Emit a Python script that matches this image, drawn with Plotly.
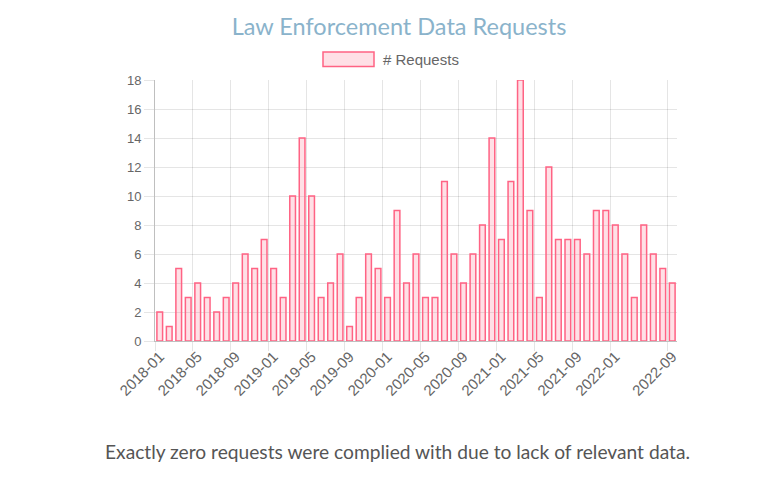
import plotly.graph_objects as go

months = [
    "2018-01", "2018-02", "2018-03", "2018-04", "2018-05", "2018-06", "2018-07", "2018-08",
    "2018-09", "2018-10", "2018-11", "2018-12",
    "2019-01", "2019-02", "2019-03", "2019-04", "2019-05", "2019-06", "2019-07", "2019-08",
    "2019-09", "2019-10", "2019-11", "2019-12",
    "2020-01", "2020-02", "2020-03", "2020-04", "2020-05", "2020-06", "2020-07", "2020-08",
    "2020-09", "2020-10", "2020-11", "2020-12",
    "2021-01", "2021-02", "2021-03", "2021-04", "2021-05", "2021-06", "2021-07", "2021-08",
    "2021-09", "2021-10", "2021-11", "2021-12",
    "2022-01", "2022-02", "2022-03", "2022-04", "2022-06", "2022-07", "2022-09",
]
requests = [
    2, 1, 5, 3, 4, 3, 2, 3, 4, 6, 5, 7,
    5, 3, 10, 14, 10, 3, 4, 6, 1, 3, 6, 5,
    3, 9, 4, 6, 3, 3, 11, 6, 4, 6, 8, 14,
    7, 11, 18, 9, 3, 12, 7, 7, 7, 6, 9, 9,
    8, 6, 3, 8, 6, 5, 4,
]
tick_labels = [
    "2018-01", "2018-05", "2018-09", "2019-01", "2019-05", "2019-09", "2020-01",
    "2020-05", "2020-09", "2021-01", "2021-05", "2021-09", "2022-01", "2022-09",
]

idx = list(range(len(months)))
tick_idx = [months.index(t) for t in tick_labels]

W, H = 782, 504
L, R, T, B = 155, 677, 80, 341.5

fig = go.Figure()
fig.add_trace(go.Bar(
    x=idx, y=requests, name="# Requests", width=0.6,
    marker=dict(color="rgba(255,99,132,0.2)",
                line=dict(color="rgb(255,99,132)", width=1.5)),
    hovertext=months, hoverinfo="text+y",
))

grid = "rgba(0,0,0,0.1)"
fig.update_layout(
    width=W, height=H, autosize=False,
    margin=dict(l=L, r=W - R, t=T, b=H - B, pad=0),
    paper_bgcolor="white", plot_bgcolor="white",
    showlegend=False,
    font=dict(family="Liberation Sans, Arial, sans-serif", color="#666", size=12),
    title=dict(text="Law Enforcement Data Requests", xref="container", yref="container",
               x=399 / W, xanchor="center", y=1 - 27 / H, yanchor="middle",
               font=dict(family="Lato", size=23.5, color="#8ab3cb")),
    xaxis=dict(
        range=[-0.5, len(months) - 0.5], tickmode="array",
        tickvals=tick_idx, ticktext=tick_labels, tickangle=-45,
        ticks="", showgrid=False, zeroline=False,
        showline=True, linecolor="rgba(0,0,0,0.25)", linewidth=1,
        tickfont=dict(size=15, color="#666"),
        minor=dict(tickmode="array", tickvals=[i - 0.5 for i in tick_idx],
                   showgrid=True, gridcolor=grid, gridwidth=1,
                   ticks="outside", ticklen=9, tickcolor=grid),
    ),
    yaxis=dict(
        range=[0, 18], dtick=2, tick0=0, showgrid=True, gridcolor=grid, gridwidth=1,
        ticks="outside", ticklen=10, tickcolor=grid, zeroline=False,
        showline=True, linecolor="rgba(0,0,0,0.25)", linewidth=1,
        tickfont=dict(size=13, color="#666"),
    ),
    shapes=[dict(type="rect", xref="paper", yref="paper",
                 x0=(323 - L) / (R - L), x1=(374 - L) / (R - L),
                 y0=(B - 66.5) / (B - T), y1=(B - 52) / (B - T),
                 fillcolor="rgba(255,99,132,0.2)",
                 line=dict(color="rgb(255,99,132)", width=1.5))],
    annotations=[
        dict(text="# Requests", xref="paper", yref="paper",
             x=(381 - L) / (R - L), xanchor="left",
             y=(B - 59) / (B - T), yanchor="middle", showarrow=False,
             font=dict(family="Liberation Sans, Arial, sans-serif", size=15, color="#666")),
        dict(text="Exactly zero requests were complied with due to lack of relevant data.",
             xref="paper", yref="paper",
             x=(397.5 - L) / (R - L), xanchor="center",
             y=(B - 452) / (B - T), yanchor="middle", showarrow=False,
             font=dict(family="Lato", size=19.2, color="#555")),
    ],
)

fig.write_html("out.html")
